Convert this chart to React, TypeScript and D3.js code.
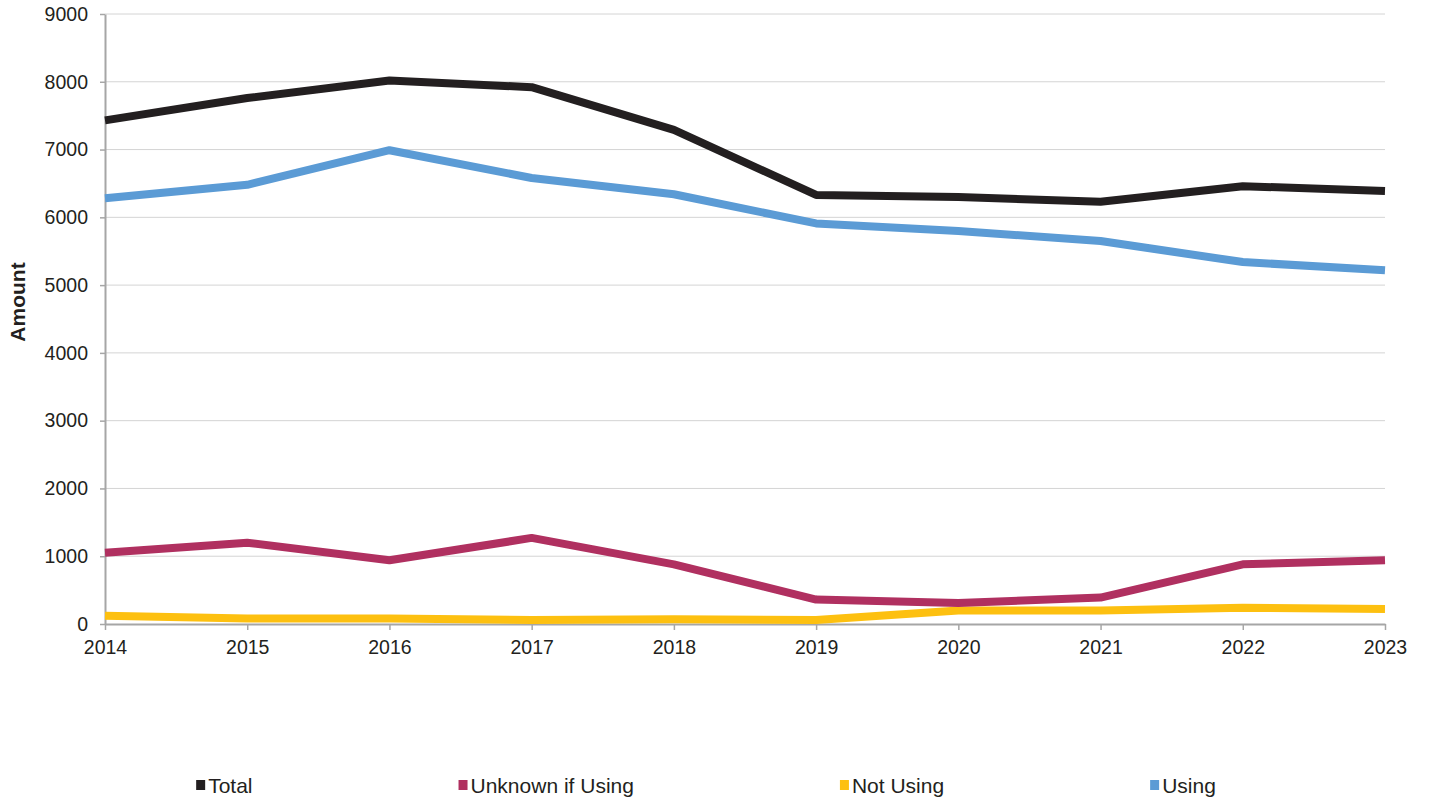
import { useEffect, useRef } from "react";
import * as d3 from "d3";

const years = [2014, 2015, 2016, 2017, 2018, 2019, 2020, 2021, 2022, 2023];
const total = [7430, 7760, 8020, 7920, 7290, 6330, 6300, 6230, 6460, 6390];
const unknownIfUsing = [1050, 1200, 940, 1270, 880, 360, 310, 390, 880, 940];
const notUsing = [120, 80, 80, 60, 70, 60, 200, 200, 240, 220];
const using = [6280, 6480, 6990, 6580, 6340, 5910, 5800, 5650, 5340, 5220];
const yTicks = [0, 1000, 2000, 3000, 4000, 5000, 6000, 7000, 8000, 9000];

const seriesNames = ["Total", "Unknown if Using", "Not Using", "Using"];
const seriesColors = ["#231f20", "#b03060", "#fdc010", "#5b9bd5"];
const seriesValues = [total, unknownIfUsing, notUsing, using];
// draw order: bottom lines first so Total sits on top
const drawOrder = [2, 1, 3, 0];

const App = () => {
  const ref = useRef<SVGSVGElement>(null);

  useEffect(() => {
    document.body.style.margin = "0";
    if (!ref.current) return;
    const width = 1429;
    const height = 803;
    const margin = { top: 14, right: 44, bottom: 179, left: 105 };
    const font = "'Liberation Sans', Arial, sans-serif";

    const svg = d3.select(ref.current);
    svg.selectAll("*").remove();

    const x = d3
      .scaleLinear()
      .domain([years[0], years[years.length - 1]])
      .range([margin.left, width - margin.right]);
    const y = d3
      .scaleLinear()
      .domain([0, 9000])
      .range([height - margin.bottom, margin.top]);

    // gridlines
    svg
      .append("g")
      .selectAll("line")
      .data(yTicks.filter((t) => t > 0))
      .join("line")
      .attr("x1", margin.left)
      .attr("x2", width - margin.right)
      .attr("y1", (d) => y(d))
      .attr("y2", (d) => y(d))
      .attr("stroke", "#d4d4d4")
      .attr("stroke-width", 1);

    // y axis
    const yAxis = svg
      .append("g")
      .attr("transform", `translate(${margin.left},0)`)
      .call(
        d3
          .axisLeft(y)
          .tickValues(yTicks)
          .tickFormat(d3.format("d"))
          .tickSize(5)
          .tickPadding(12)
          .tickSizeOuter(0)
      );
    yAxis.select(".domain").attr("stroke", "#a6a6a6").attr("stroke-width", 2);
    yAxis.selectAll(".tick line").attr("stroke", "#a6a6a6").attr("stroke-width", 1.5);
    yAxis
      .selectAll(".tick text")
      .attr("fill", "#231f20")
      .style("font-family", font)
      .style("font-size", "19.5px");

    // x axis
    const xAxis = svg
      .append("g")
      .attr("transform", `translate(0,${y(0)})`)
      .call(
        d3
          .axisBottom(x)
          .tickValues(years)
          .tickFormat((d) => String(d))
          .tickSize(6)
          .tickPadding(10)
          .tickSizeOuter(0)
      );
    xAxis.select(".domain").attr("stroke", "#a6a6a6").attr("stroke-width", 2);
    xAxis.selectAll(".tick line").attr("stroke", "#a6a6a6").attr("stroke-width", 1.5);
    xAxis
      .selectAll(".tick text")
      .attr("fill", "#231f20")
      .style("font-family", font)
      .style("font-size", "19.5px");

    // y axis label
    svg
      .append("text")
      .attr("transform", `translate(25,${(margin.top + y(0)) / 2 - 17}) rotate(-90)`)
      .attr("text-anchor", "middle")
      .style("font-family", font)
      .style("font-size", "21px")
      .style("font-weight", "bold")
      .attr("fill", "#231f20")
      .text("Amount");

    // lines
    const line = d3
      .line<number>()
      .x((_, i) => x(years[i]))
      .y((d) => y(d));

    drawOrder.forEach((k) => {
      svg
        .append("path")
        .datum(seriesValues[k])
        .attr("d", line)
        .attr("fill", "none")
        .attr("stroke", seriesColors[k])
        .attr("stroke-width", 8)
        .attr("stroke-linejoin", "round");
    });

    // legend
    const legend = svg.append("g");
    const legendY = 785;
    const gap = 206;
    const items = seriesNames.map((name, i) => {
      const g = legend.append("g");
      g.append("rect")
        .attr("x", 0)
        .attr("y", legendY - 5)
        .attr("width", 9)
        .attr("height", 10)
        .attr("fill", seriesColors[i]);
      const t = g
        .append("text")
        .attr("x", 12)
        .attr("y", legendY)
        .attr("dy", "0.36em")
        .attr("fill", "#231f20")
        .style("font-family", font)
        .style("font-size", "21px")
        .text(name);
      const w = 12 + (t.node() as SVGTextElement).getComputedTextLength();
      return { g, w };
    });
    const totalW = d3.sum(items, (d) => d.w) + gap * (items.length - 1);
    let cx = 706 - totalW / 2;
    items.forEach((it) => {
      it.g.attr("transform", `translate(${cx},0)`);
      cx += it.w + gap;
    });
  }, []);

  return <svg ref={ref} width={1429} height={803} style={{ display: "block", background: "#fff" }} />;
};

export default App;
